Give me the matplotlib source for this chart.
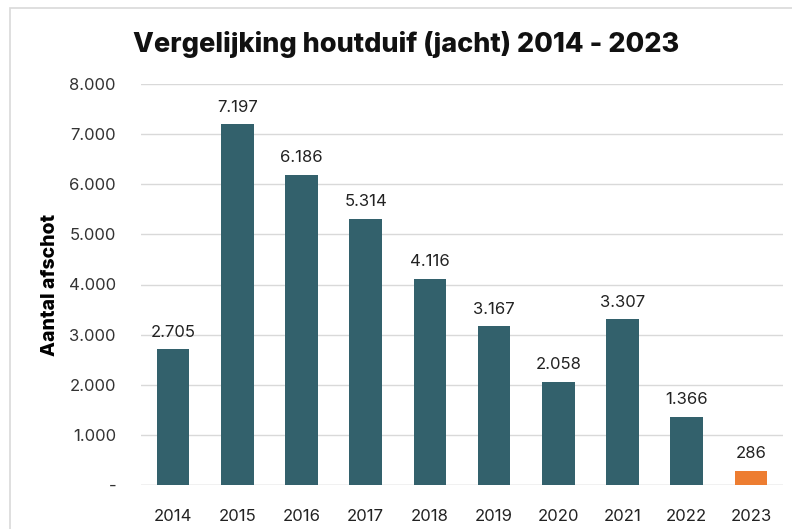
import matplotlib.pyplot as plt
from matplotlib.patches import Rectangle

years = ["2014", "2015", "2016", "2017", "2018", "2019", "2020", "2021", "2022", "2023"]
values = [2705, 7197, 6186, 5314, 4116, 3167, 2058, 3307, 1366, 286]
labels = ["2.705", "7.197", "6.186", "5.314", "4.116", "3.167", "2.058", "3.307", "1.366", "286"]
yticks = [0, 1000, 2000, 3000, 4000, 5000, 6000, 7000, 8000]
yticklabels = ["-", "1.000", "2.000", "3.000", "4.000", "5.000", "6.000", "7.000", "8.000"]

plt.rcParams['font.family'] = ['Inter', 'DejaVu Sans']

fig = plt.figure(figsize=(7.92, 5.29), dpi=100)
W, H = 792, 529
ax = fig.add_axes([141 / W, 1 - 485 / H, (783 - 141) / W, (485 - 84) / H])

colors = ["#33616C"] * 9 + ["#ED7D31"]
x = list(range(len(years)))
ax.bar(x, values, width=0.51, color=colors, zorder=3)
for xi, v, lab in zip(x, values, labels):
    ax.text(xi, v + 190, lab, ha='center', va='bottom', fontsize=12, color='#222222')

ax.set_xlim(-0.5, len(years) - 0.5)
ax.set_ylim(0, 8000)
ax.set_yticks(yticks)
ax.set_yticklabels(yticklabels, fontsize=12, color='#333333')
ax.set_xticks(x)
ax.set_xticklabels(years, fontsize=12, color='#222222')
ax.tick_params(axis='y', length=0, pad=18)
ax.tick_params(axis='x', length=0, pad=17)
ax.grid(axis='y', color='#D9D9D9', linewidth=1, zorder=0)
ax.set_axisbelow(True)
for s in ax.spines.values():
    s.set_visible(False)
ax.axhline(0, color='#D9D9D9', linewidth=1, zorder=1)
ax.set_ylabel("Aantal afschot", fontsize=14, fontweight='heavy', labelpad=7)

fig.text(406 / W, 1 - 45 / H, "Vergelijking houtduif (jacht) 2014 - 2023",
         ha='center', va='center', fontsize=19.5, fontweight='heavy', color='#111111')

fig.patches.append(Rectangle((10 / W, -0.1), 1.2, 1 - 8 / H + 0.1, transform=fig.transFigure,
                             fill=False, edgecolor='#D9D9D9', linewidth=1.2))

fig.savefig("out.png", dpi=100)
